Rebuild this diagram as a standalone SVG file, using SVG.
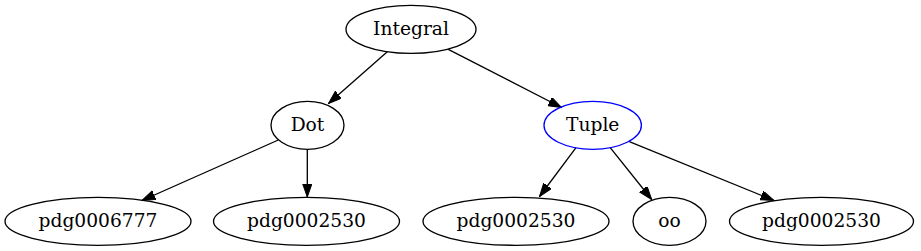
<svg xmlns="http://www.w3.org/2000/svg" width="921" height="251" viewBox="0 0 921 251">
<defs>
<style>
.n ellipse{fill:none;stroke:#000;stroke-width:1.33}
.n text{font-family:"DejaVu Serif","Liberation Serif",serif;font-size:18.67px;text-anchor:middle;fill:#000}
.e line{stroke:#000;stroke-width:1.33}
</style>
<marker id="ah" markerUnits="userSpaceOnUse" markerWidth="14" markerHeight="10" refX="13.3" refY="4.67" orient="auto">
<path d="M0,0 L13.3,4.67 L0,9.33 Z" fill="#000" stroke="#000" stroke-width="1"/>
</marker>
</defs>
<rect width="921" height="251" fill="#fff"/>
<g id="edges" class="e">
<line x1="387.3" y1="51.7" x2="328.5" y2="103.5" marker-end="url(#ah)"/>
<line x1="448.3" y1="49.3" x2="561.5" y2="107.5" marker-end="url(#ah)"/>
<line x1="278.3" y1="140" x2="142" y2="200.5" marker-end="url(#ah)"/>
<line x1="307.3" y1="149.3" x2="307.3" y2="197" marker-end="url(#ah)"/>
<line x1="576" y1="147.7" x2="539.5" y2="196.5" marker-end="url(#ah)"/>
<line x1="610" y1="147.3" x2="651.7" y2="199.5" marker-end="url(#ah)"/>
<line x1="629.3" y1="141.7" x2="774" y2="200.5" marker-end="url(#ah)"/>
</g>
<g id="integral" class="n"><ellipse cx="411" cy="29.3" rx="65" ry="24"/><text x="411" y="35">Integral</text></g>
<g id="dot" class="n"><ellipse cx="307.5" cy="125.3" rx="36.5" ry="24"/><text x="307.5" y="131">Dot</text></g>
<g id="tuple" class="n"><ellipse cx="592.7" cy="125.3" rx="48.7" ry="24" style="stroke:#0000ff"/><text x="592.7" y="131">Tuple</text></g>
<g id="pdg0006777" class="n"><ellipse cx="98" cy="221.3" rx="93" ry="24"/><text x="98" y="227">pdg0006777</text></g>
<g id="pdg0002530_a" class="n"><ellipse cx="306.5" cy="221.3" rx="93" ry="24"/><text x="306.5" y="227">pdg0002530</text></g>
<g id="pdg0002530_b" class="n"><ellipse cx="516" cy="221.3" rx="93" ry="24"/><text x="516" y="227">pdg0002530</text></g>
<g id="oo" class="n"><ellipse cx="669.5" cy="221.3" rx="36.5" ry="24"/><text x="669.5" y="227">oo</text></g>
<g id="pdg0002530_c" class="n"><ellipse cx="821.5" cy="221.3" rx="92" ry="24"/><text x="821.5" y="227">pdg0002530</text></g>
</svg>
